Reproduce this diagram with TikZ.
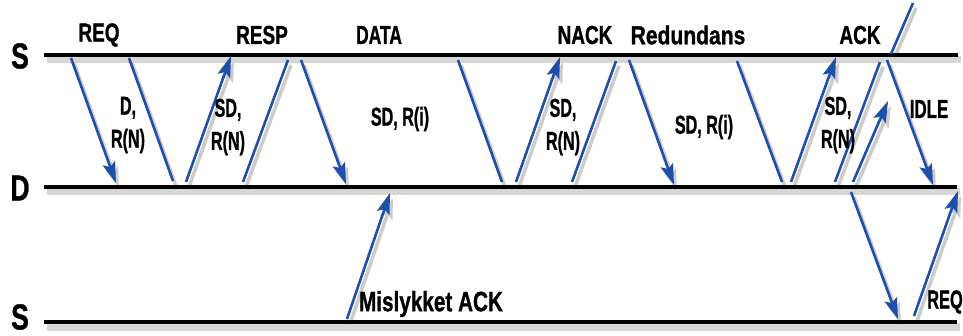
\documentclass[tikz,border=0pt]{standalone}
\usepackage{fontspec}
\setmainfont{Liberation Sans}[BoldFeatures={FakeBold=1.2}]
\usetikzlibrary{arrows.meta}
\definecolor{arrblue}{RGB}{30,80,170}
\newcommand\wtop[1]{\scalebox{0.73}[1]{#1}}
\newcommand\win[1]{\scalebox{0.62}[1]{#1}}
\newcommand\wbig[1]{\scalebox{0.74}[1]{#1}}
\begin{document}
\begin{tikzpicture}[x=1pt,y=-1pt,
  tl/.style={draw=black, line width=4pt},
  tlsh/.style={draw=black!16, line width=7pt},
  msg/.style={draw=arrblue, line width=2.6pt},
  msgsh/.style={draw=black!20, line width=3.5pt},
  tip/.style={-{Stealth[length=21pt,width=13pt,inset=4pt]}},
  lbl/.style={font=\fontsize{26}{33}\selectfont\bfseries, inner sep=0pt, align=center},
  big/.style={font=\fontsize{36}{38}\selectfont\bfseries, inner sep=0pt},
  mis/.style={font=\fontsize{28}{30}\selectfont\bfseries, inner sep=0pt}]
\useasboundingbox (0,0) rectangle (963,336);
% time lines
\coordinate (s1l) at (44,55);  \coordinate (s1r) at (958,55);
\coordinate (dl)  at (44,187); \coordinate (dr)  at (957,187);
\coordinate (s2l) at (44,322); \coordinate (s2r) at (957,322);
% message end points
\coordinate (a1s) at (71,58);   \coordinate (a1e) at (116,183);
\coordinate (a2s) at (129,58);  \coordinate (a2e) at (173,181);
\coordinate (a3s) at (186,182); \coordinate (a3e) at (231,56);
\coordinate (a4s) at (243,182); \coordinate (a4e) at (288,60);
\coordinate (a5s) at (301,60);  \coordinate (a5e) at (346,184);
\coordinate (a6s) at (458,60);  \coordinate (a6e) at (502,182);
\coordinate (a7s) at (516,182); \coordinate (a7e) at (560,57);
\coordinate (a8s) at (572,182); \coordinate (a8e) at (616,61);
\coordinate (a9s) at (629,60);  \coordinate (a9e) at (674,185);
\coordinate (a10s) at (737,61); \coordinate (a10e) at (782,182);
\coordinate (a11s) at (791,182);\coordinate (a11e) at (836,57);
\coordinate (a12s) at (835,182);\coordinate (a12e) at (880,62);
\coordinate (a13s) at (853,182);\coordinate (a13e) at (888,101);
\coordinate (a14s) at (887,60); \coordinate (a14e) at (933,185);
\coordinate (a15s) at (891,54); \coordinate (a15e) at (913,3);
\coordinate (a16s) at (347,319);\coordinate (a16e) at (390,193);
\coordinate (a17s) at (851,192);\coordinate (a17e) at (898,319);
\coordinate (a18s) at (914,316);\coordinate (a18e) at (958,191);
% shadows
\begin{scope}[transform canvas={shift={(3pt,-5pt)}}]
  \draw[tlsh] (s1l) -- (s1r);
  \draw[tlsh] (dl) -- (dr);
  \draw[tlsh] (s2l) -- (s2r);
  \foreach \a in {2,4,6,8,10,12,15}
    \draw[msgsh] (a\a s) -- (a\a e);
  \foreach \a in {1,3,5,7,9,11,13,14,16,17,18}
    \draw[msgsh,tip] (a\a s) -- (a\a e);
\end{scope}
% time lines
\draw[tl] (s1l) -- (s1r);
\draw[tl] (dl) -- (dr);
\draw[tl] (s2l) -- (s2r);
% messages
\foreach \a in {2,4,6,8,10,12,15}
  \draw[msg] (a\a s) -- (a\a e);
\foreach \a in {1,3,5,7,9,11,13,14,16,17,18}
  \draw[msg,tip] (a\a s) -- (a\a e);
% axis labels
\node[big] (ls1) at (20,56) {\wbig{S}};
\node[big] (ld)  at (20,188) {\wbig{D}};
\node[big] (ls2) at (20,317) {\wbig{S}};
% top labels
\node[lbl] (req)  at (99,35)  {\wtop{REQ}};
\node[lbl] (resp) at (262,35) {\wtop{RESP}};
\node[lbl] (data) at (379,35) {\scalebox{0.67}[1]{DATA}};
\node[lbl] (nack) at (585,35) {\wtop{NACK}};
\node[lbl] (red)  at (688,35) {\scalebox{0.81}[1]{Redundans}};
\node[lbl] (ack)  at (860,35) {\wtop{ACK}};
% inner labels
\node[lbl] (t1) at (128,125) {\win{D,}\\\win{R(N)}};
\node[lbl] (t2) at (228,127) {\win{SD,}\\\win{R(N)}};
\node[lbl] (t3) at (400,119) {\win{SD, R(i)}};
\node[lbl] (t4) at (563,127) {\win{SD,}\\\win{R(N)}};
\node[lbl] (t5) at (704,127) {\win{SD, R(i)}};
\node[lbl] (t6) at (838,125) {\win{SD,}\\\win{R(N)}};
\node[lbl] (t7) at (929,109) {\scalebox{0.65}[1]{IDLE}};
% bottom labels
\node[mis] (mis) at (431,304) {\scalebox{0.74}[1]{Mislykket ACK}};
\node[lbl] (req2) at (945,302) {\scalebox{0.63}[1]{REQ}};
\end{tikzpicture}
\end{document}
